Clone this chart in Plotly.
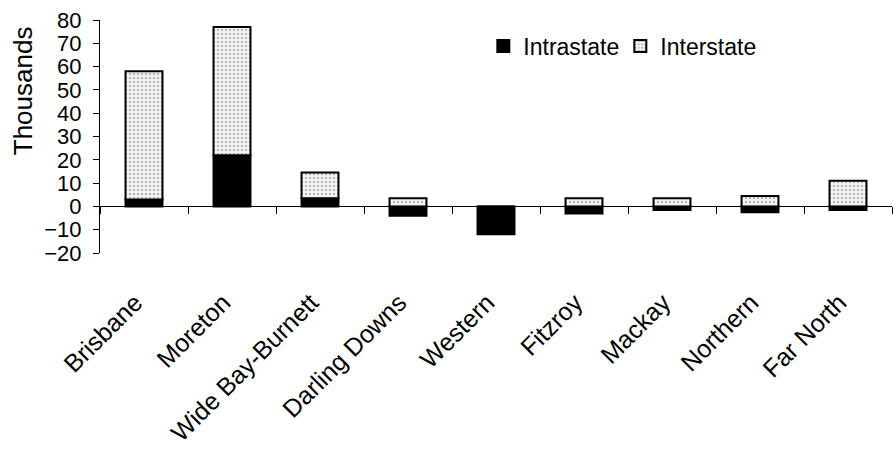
import plotly.graph_objects as go

# Net migration by Queensland statistical division (thousands)
regions = ["Brisbane", "Moreton", "Wide Bay-Burnett", "Darling Downs", "Western",
           "Fitzroy", "Mackay", "Northern", "Far North"]
intrastate = [3, 22, 3.5, -4, -12, -3, -1.5, -2.5, -1.5]
interstate = [55, 55, 11, 3.5, 0, 3.5, 3.5, 4.5, 11]
y_ticks = [-20, -10, 0, 10, 20, 30, 40, 50, 60, 70, 80]

FONT = "Arial, Liberation Sans, sans-serif"

fig = go.Figure()
fig.add_trace(go.Bar(
    x=regions, y=intrastate, name="Intrastate",
    marker=dict(color="black", line=dict(color="black", width=2)),
))
fig.add_trace(go.Bar(
    x=regions, y=interstate, name="Interstate",
    marker=dict(color="white", line=dict(color="black", width=2),
                pattern=dict(shape=".", fgcolor="#777777", bgcolor="#f4f4f4",
                             size=4, solidity=0.3)),
))
# carrier for the category-label axis along the bottom
fig.add_trace(go.Scatter(x=regions, y=[None] * len(regions), xaxis="x2",
                         showlegend=False, hoverinfo="skip", mode="markers"))

fig.update_layout(
    width=893, height=454,
    margin=dict(l=100, r=1, t=20, b=201),
    paper_bgcolor="white", plot_bgcolor="white",
    barmode="relative", bargap=0.58,
    font=dict(family=FONT, size=22, color="black"),
    showlegend=True,
    legend=dict(orientation="h", x=0.484, y=0.888, xanchor="left", yanchor="middle",
                font=dict(size=23), itemwidth=30, traceorder="normal",
                entrywidth=92, entrywidthmode="pixels",
                bgcolor="rgba(0,0,0,0)"),
    # category axis drawn along y = 0 with ticks between the bars
    xaxis=dict(type="category", range=[-0.5, 8.5], anchor="free", position=0.2,
               showline=True, linecolor="black", linewidth=1,
               ticks="outside", tickson="boundaries", ticklen=7, tickcolor="black",
               showticklabels=False, showgrid=False, zeroline=False),
    # rotated region names below the plot
    xaxis2=dict(type="category", overlaying="x", anchor="y", side="bottom",
                range=[-0.4, 8.6], showline=False, ticks="",
                tickangle=-45, showgrid=False, zeroline=False,
                tickfont=dict(size=25), ticklabelstandoff=29),
    yaxis=dict(range=[-20, 80], tickvals=y_ticks, showline=True, linecolor="black",
               linewidth=1, ticks="outside", ticklen=6, tickcolor="black",
               showgrid=False, zeroline=False, tickfont=dict(size=22),
               ticklabelstandoff=7),
    annotations=[dict(text="Thousands", textangle=-90, xref="paper", yref="paper",
                      x=-0.097, y=0.695, xanchor="center", yanchor="middle",
                      showarrow=False, font=dict(size=26, family=FONT))],
)

fig.write_html("out.html")
